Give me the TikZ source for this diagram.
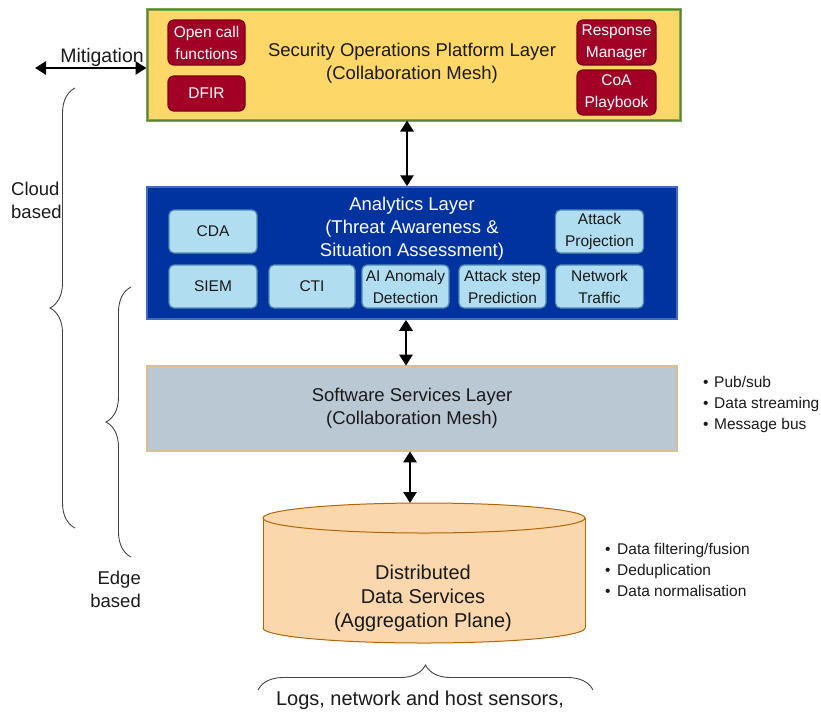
\documentclass[tikz,border=0pt]{standalone}
\usepackage{fontspec}
\setmainfont{Liberation Sans}
\usetikzlibrary{arrows.meta,decorations.pathreplacing}

\definecolor{sopfill}{HTML}{FDD868}
\definecolor{sopdraw}{HTML}{7FA74F}
\definecolor{redfill}{HTML}{A20025}
\definecolor{reddraw}{HTML}{7A0018}
\definecolor{anfill}{HTML}{0033A0}
\definecolor{andraw}{HTML}{3F6CC0}
\definecolor{lbfill}{HTML}{B1DDF0}
\definecolor{lbdraw}{HTML}{4F8CB0}
\definecolor{ssfill}{HTML}{BAC8D3}
\definecolor{ssdraw}{HTML}{B9824A}
\definecolor{ssmid}{HTML}{DDBE90}
\definecolor{cylfill}{HTML}{FAD7AC}
\definecolor{cyldraw}{HTML}{B46504}
\definecolor{bracegray}{HTML}{444444}
\definecolor{txt}{HTML}{1A1A1A}

\begin{document}
\begin{tikzpicture}[x=1pt,y=-1pt,
  big/.style={font=\fontsize{18.5}{23}\selectfont},
  small/.style={font=\fontsize{15.5}{22}\selectfont},
  layer/.style={inner sep=0pt, align=center, text=txt, big},
  redbox/.style={draw=reddraw, fill=redfill, line width=1.2pt, rounded corners=6pt,
                 inner sep=0pt, align=center, text=white, small},
  bluebox/.style={draw=lbdraw, fill=lbfill, line width=1.2pt, rounded corners=5pt,
                  inner sep=0pt, align=center, text=txt, small},
  dbl/.style={line width=2.8pt,
              {Triangle[length=11pt,width=13pt]}-{Triangle[length=11pt,width=13pt]}},
  curly/.style={draw=bracegray, line width=0.9pt,
                decorate, decoration={brace, amplitude=25pt}},
  lbl/.style={inner sep=0pt, text=txt, big},
  bullets/.style={inner sep=0pt, align=left, text=txt,
                  font=\fontsize{15.5}{21}\selectfont, anchor=west}
]
\useasboundingbox (0,0) rectangle (821,713);

% Security operations platform layer
\node[layer, fill=sopfill, draw=sopdraw, line width=1pt, double=sopdraw!75!black,
      double distance=1pt, minimum width=533, minimum height=111] (sop) at (413.5,64.5) {};
\node[layer] (soptitle) at (412,63.5) {Security Operations Platform Layer\\(Collaboration Mesh)};
\node[redbox, minimum width=77, minimum height=45] (ocf) at (206.5,42.5) {Open call\\functions};
\node[redbox, minimum width=77, minimum height=35] (dfir) at (206.5,93.5) {DFIR};
\node[redbox, minimum width=79, minimum height=45] (rm) at (616.5,42.5) {Response\\Manager};
\node[redbox, minimum width=79, minimum height=45] (coa) at (616.5,92.5) {CoA\\Playbook};

% Analytics layer
\node[layer, fill=anfill, draw=andraw, line width=1.5pt,
      minimum width=530, minimum height=132] (an) at (412,253) {};
\node[layer, text=white] (antitle) at (412,228.5) {Analytics Layer\\(Threat Awareness \&\\Situation Assessment)};
\node[bluebox, minimum width=88, minimum height=43] (cda) at (213,231.5) {CDA};
\node[bluebox, minimum width=88, minimum height=43] (ap) at (599.5,231.5) {Attack\\Projection};
\node[bluebox, minimum width=88, minimum height=43] (siem) at (213,286.5) {SIEM};
\node[bluebox, minimum width=86, minimum height=43] (cti) at (312,286.5) {CTI};
\node[bluebox, minimum width=87, minimum height=43] (aiad) at (405.5,286.5) {AI Anomaly\\Detection};
\node[bluebox, minimum width=87, minimum height=43] (asp) at (502.5,286.5) {Attack step\\Prediction};
\node[bluebox, minimum width=88, minimum height=43] (nt) at (599.5,286.5) {Network\\Traffic};

% Software services layer
\node[layer, fill=ssfill, draw=ssdraw, line width=0.7pt, double=ssmid, double distance=1.2pt,
      minimum width=530, minimum height=85] (ss) at (412,408.5) {Software Services Layer\\(Collaboration Mesh)};
\node[bullets] (ssnotes) at (703,404) {\makebox[11pt][l]{\textbullet}Pub/sub\\
  \makebox[11pt][l]{\textbullet}Data streaming\\\makebox[11pt][l]{\textbullet}Message bus};

% Distributed data services (cylinder)
\filldraw[fill=cylfill, draw=cyldraw, line width=1pt] (424,628) ellipse [x radius=161, y radius=15];
\fill[cylfill] (263,518) rectangle (585,628);
\draw[cyldraw, line width=1pt] (263,518) -- (263,628) (585,518) -- (585,628);
\filldraw[fill=cylfill, draw=cyldraw, line width=1pt] (424,518) ellipse [x radius=161, y radius=15];
\coordinate (ddstop) at (410,503);
\node[layer, font=\fontsize{20}{24}\selectfont] (dds) at (423,598) {Distributed\\Data Services\\(Aggregation Plane)};
\node[bullets] (ddsnotes) at (605,570) {\makebox[12pt][l]{\textbullet}Data filtering/fusion\\
  \makebox[12pt][l]{\textbullet}Deduplication\\\makebox[12pt][l]{\textbullet}Data normalisation};

% Connectors between layers
\draw[dbl] ([xshift=-6.5pt]sop.south) -- ([xshift=-6.5pt]sop.south |- an.north);
\draw[dbl] ([xshift=-6pt]an.south) -- ([xshift=-6pt]ss.north);
\draw[dbl] (ss.south -| ddstop) -- (ddstop);

% Mitigation
\coordinate (mitend) at (35,68);
\draw[dbl] (mitend) -- (mitend -| sop.west);
\node[lbl, font=\fontsize{19.5}{23}\selectfont] (mitlbl) at (102,57) {Mitigation};

% Scope braces
\draw[curly] (75,528) -- (75,88);
\node[lbl, anchor=west, align=left] (cloud) at (11,200.5) {Cloud\\based};
\draw[curly] (131,557) -- (131,287);
\node[lbl, anchor=east, align=right] (edge) at (141,589) {Edge\\based};
\draw[curly] (258,690) -- (593,690);
\node[lbl, font=\fontsize{20}{24}\selectfont] (logs) at (420,700) {Logs, network and host sensors,};
\end{tikzpicture}
\end{document}
